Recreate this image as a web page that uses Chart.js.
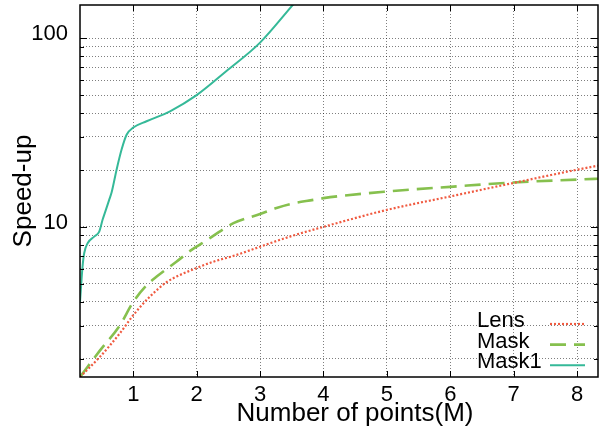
<!DOCTYPE html>
<html lang="en">
<head>
<meta charset="UTF-8">
<title>Speed-up</title>
<script src="https://cdn.jsdelivr.net/npm/chart.js"></script>
<style>
  body { margin: 0; background: #fff; }
  #wrap { width: 599px; height: 433px; }
</style>
</head>
<body>
<div id="wrap"><canvas id="speedChart" width="599" height="433"></canvas></div>
<script>
// values (x = number of points in M, y = speed-up)
const seriesNames = ['Lens', 'Mask', 'Mask1'];

const lensX = [0.16, 0.47, 0.79, 1.0, 1.26, 1.53, 1.95, 2.26, 2.63, 3.0, 3.47, 4.0, 5.0, 6.0, 7.0, 8.0, 8.33];
const lensY = [1.6, 2.04, 2.73, 3.4, 4.26, 5.1, 5.96, 6.53, 7.1, 7.85, 8.88, 10.0, 12.3, 14.5, 17.1, 20.1, 21.1];

const maskX = [0.16, 0.47, 0.79, 1.0, 1.21, 1.37, 1.68, 1.92, 2.13, 2.42, 2.58, 3.0, 3.26, 3.47, 3.84, 4.0, 5.0, 6.0, 7.0, 8.0, 8.33];
const maskY = [1.6, 2.2, 3.01, 4.0, 4.9, 5.45, 6.53, 7.55, 8.36, 9.72, 10.46, 11.7, 12.6, 13.2, 13.9, 14.2, 15.4, 16.3, 17.2, 17.8, 18.0];

const mask1X = [0.16, 0.2, 0.226, 0.28, 0.384, 0.463, 0.516, 0.568, 0.62, 0.658, 0.737, 0.816, 0.895, 1.0, 1.21, 1.58, 2.0, 2.47, 3.0, 3.53];
const mask1Y = [4.0, 6.15, 7.25, 8.19, 8.88, 9.44, 10.9, 12.3, 13.9, 15.2, 20.1, 25.7, 30.8, 33.6, 36.3, 41.0, 49.9, 67, 94.8, 152];

const xTicks = [1, 2, 3, 4, 5, 6, 7, 8];
const yTicks = [2, 3, 4, 5, 6, 7, 8, 9, 10, 20, 30, 40, 50, 60, 70, 80, 90, 100];
const yLabelled = [10, 100];

const FONT = "'Liberation Sans', Arial, sans-serif";

function pairs(xs, ys) {
    return xs.map((x, i) => ({x: x, y: ys[i]}));
}

// gnuplot-like frame, inward tick marks, legend and x label
const decor = {
    id: 'decor',
    afterDatasetsDraw(chart) {
        const ctx = chart.ctx;
        const a = chart.chartArea;
        const xs = chart.scales.x, ys = chart.scales.y;
        ctx.save();
        ctx.strokeStyle = '#000';
        ctx.lineWidth = 1;
        ctx.beginPath();
        yTicks.forEach(v => {
            const py = Math.round(ys.getPixelForValue(v)) + 0.5;
            const len = yLabelled.includes(v) ? 7 : 4;
            ctx.moveTo(a.left, py); ctx.lineTo(a.left + len, py);
            ctx.moveTo(a.right, py); ctx.lineTo(a.right - len, py);
        });
        xTicks.forEach(v => {
            const px = Math.round(xs.getPixelForValue(v)) + 0.5;
            ctx.moveTo(px, a.bottom); ctx.lineTo(px, a.bottom - 6);
            ctx.moveTo(px, a.top); ctx.lineTo(px, a.top + 6);
        });
        ctx.stroke();

        ctx.lineWidth = 1.5;
        ctx.strokeRect(a.left, a.top, a.right - a.left, a.bottom - a.top);

        // legend
        ctx.font = '22px ' + FONT;
        ctx.fillStyle = '#000';
        ctx.textAlign = 'left';
        ctx.textBaseline = 'alphabetic';
        chart.data.datasets.forEach((ds, i) => {
            const rowY = 324 + i * 20.6;
            ctx.fillText(ds.label, 477, rowY + 3);
            ctx.save();
            ctx.strokeStyle = ds.borderColor;
            ctx.lineWidth = ds.borderWidth;
            ctx.setLineDash(ds.borderDash || []);
            ctx.beginPath();
            ctx.moveTo(550, rowY);
            ctx.lineTo(585, rowY);
            ctx.stroke();
            ctx.restore();
        });

        // x axis label
        ctx.font = '26px ' + FONT;
        ctx.textAlign = 'center';
        ctx.fillText('Number of points(M)', (a.left + a.right) / 2 + 16, 421);
        ctx.restore();
    }
};

const ctx = document.getElementById('speedChart').getContext('2d');
const speedChart = new Chart(ctx, {
    type: 'line',
    data: {
        datasets: [{
            label: seriesNames[0],
            data: pairs(lensX, lensY),
            borderColor: '#f05a40',
            borderWidth: 2.2,
            borderDash: [2, 2],
            pointRadius: 0,
            cubicInterpolationMode: 'monotone'
        }, {
            label: seriesNames[1],
            data: pairs(maskX, maskY),
            borderColor: '#86c04e',
            borderWidth: 2.6,
            borderDash: [16, 8],
            pointRadius: 0,
            cubicInterpolationMode: 'monotone'
        }, {
            label: seriesNames[2],
            data: pairs(mask1X, mask1Y),
            borderColor: '#35b998',
            borderWidth: 2,
            pointRadius: 0,
            cubicInterpolationMode: 'monotone'
        }]
    },
    options: {
        responsive: false,
        animation: false,
        layout: { padding: { top: 5, right: 1, left: 0, bottom: 0 } },
        plugins: {
            legend: { display: false },
            tooltip: { enabled: false }
        },
        scales: {
            x: {
                type: 'linear',
                min: 0.16,
                max: 8.33,
                afterBuildTicks: (scale) => { scale.ticks = xTicks.map(v => ({value: v})); },
                afterFit: (scale) => {
                    scale.height = 56;
                    scale.paddingLeft = 0;
                    scale.paddingRight = 0;
                },
                grid: { color: 'rgba(0,0,0,0.5)', drawTicks: false },
                border: { display: false, dash: [1, 2] },
                ticks: {
                    color: '#000',
                    padding: 7,
                    maxRotation: 0,
                    autoSkip: false,
                    font: { family: FONT, size: 22, lineHeight: 1 }
                }
            },
            y: {
                type: 'logarithmic',
                min: 1.6,
                max: 150,
                afterBuildTicks: (scale) => { scale.ticks = yTicks.map(v => ({value: v})); },
                afterFit: (scale) => {
                    scale.width = 80;
                    scale.paddingTop = 0;
                    scale.paddingBottom = 0;
                },
                grid: { color: 'rgba(0,0,0,0.5)', drawTicks: false },
                border: { display: false, dash: [1, 2] },
                ticks: {
                    color: '#000',
                    padding: 12,
                    autoSkip: false,
                    labelOffset: -4,
                    font: { family: FONT, size: 22, lineHeight: 1 },
                    callback: (v) => yLabelled.includes(v) ? String(v) : ''
                },
                title: {
                    display: true,
                    text: 'Speed-up',
                    color: '#000',
                    font: { family: FONT, size: 26, lineHeight: 1 },
                    padding: { top: 11, bottom: 0 }
                }
            }
        }
    },
    plugins: [decor]
});
</script>
</body>
</html>
